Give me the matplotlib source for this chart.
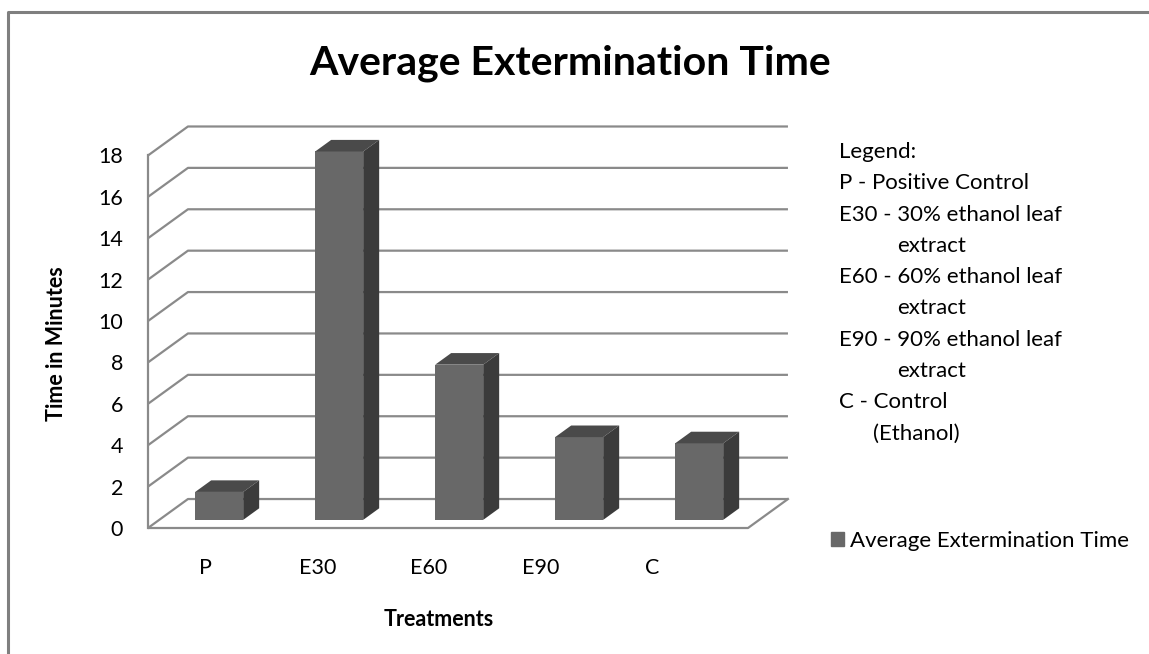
"""Average extermination time, Excel-style 3D column chart."""

import matplotlib

matplotlib.use("Agg")
import matplotlib.pyplot as plt
import numpy as np
from matplotlib.lines import Line2D
from matplotlib.patches import Patch

plt.rcParams["font.family"] = ["Lato", "DejaVu Sans"]

treatments = ["P", "E30", "E60", "E90", "C"]
avg_time = [1.35, 17.8, 7.5, 4.0, 3.7]
y_ticks = list(range(0, 19, 2))
legend_lines = [
    ("Legend:", 0),
    ("P - Positive Control", 0),
    ("E30 - 30% ethanol leaf", 0),
    ("extract", 58),
    ("E60 - 60% ethanol leaf", 0),
    ("extract", 58),
    ("E90 - 90% ethanol leaf", 0),
    ("extract", 58),
    ("C - Control", 0),
    ("(Ethanol)", 34),
]

W, H = 1149, 654
FRONT = "#686868"
TOP = "#4a4a4a"
SIDE = "#3b3b3b"
GRID = "#8a8a8a"

# depth of the 3d box in data units, and where the bars sit inside it
DX, DY = 0.333, 1.4
F0, FD = 0.28, 0.4
BAR_W = 0.4

fig = plt.figure(figsize=(W / 100, H / 100), dpi=100)
ax = fig.add_axes([148 / W, 115.65 / H, 648 / W, 416 / H])
ax.set_xlim(-0.5, 4.9)
ax.set_ylim(-0.5, 19.6)

x = np.arange(len(treatments))
n = len(treatments)

# back wall gridlines + left wall diagonals
for v in y_ticks:
    ax.plot([-0.5, -0.5 + DX, n - 0.5 + DX], [v, v + DY, v + DY],
            color=GRID, lw=1.6, zorder=1, solid_capstyle="butt")
# floor
ax.plot([-0.5, n - 0.5, n - 0.5 + DX], [0, 0, DY], color=GRID, lw=1.6, zorder=1)

# bars: front face, top and side
xf = x + F0 * DX
yb = F0 * DY
ax.bar(xf, avg_time, width=BAR_W, bottom=yb, color=FRONT, zorder=3)
for xc, v in zip(xf, avg_time):
    xl, xr, yt = xc - BAR_W / 2, xc + BAR_W / 2, yb + v
    ax.fill([xl, xr, xr + FD * DX, xl + FD * DX], [yt, yt, yt + FD * DY, yt + FD * DY],
            color=TOP, zorder=3, lw=0)
    ax.fill([xr, xr + FD * DX, xr + FD * DX, xr], [yb, yb + FD * DY, yt + FD * DY, yt],
            color=SIDE, zorder=3, lw=0)

for side in ("top", "right", "bottom"):
    ax.spines[side].set_visible(False)
ax.spines["left"].set_bounds(0, 18)
ax.spines["left"].set_color(GRID)
ax.spines["left"].set_linewidth(1.6)
ax.set_yticks(y_ticks)
ax.tick_params(axis="y", length=0, pad=18, labelsize=15.5)
ax.set_xticks(x * 0.93 - 0.02, treatments)
ax.tick_params(axis="x", length=0, pad=14, labelsize=15.5)
ax.patch.set_visible(False)

fig.text(570 / W, 1 - 63 / H, "Average Extermination Time", ha="center", va="center",
         fontsize=29.5, fontweight="bold")
fig.text(57 / W, 1 - 344 / H, "Time in Minutes", ha="center", va="center",
         rotation=90, fontsize=15.5, fontweight="bold")
fig.text(439 / W, 1 - 620 / H, "Treatments", ha="center", va="center",
         fontsize=15.5, fontweight="bold")

for k, (line, indent) in enumerate(legend_lines):
    fig.text((839 + indent) / W, 1 - (152 + 31.3 * k) / H, line, ha="left", va="center",
             fontsize=16)

fig.legend(handles=[Patch(color=FRONT)], labels=["Average Extermination Time"],
           loc="center left", bbox_to_anchor=(811 / W, 1 - 541 / H), frameon=False,
           fontsize=16, handlelength=0.6, handleheight=0.6, handletextpad=0.25)

# chart frame (top and left edges visible)
fig.add_artist(Line2D([8 / W, 8 / W, 1], [0, 1 - 11.5 / H, 1 - 11.5 / H],
                      transform=fig.transFigure, color="#7f7f7f", lw=2.2))

fig.savefig("out.png", dpi=100)
